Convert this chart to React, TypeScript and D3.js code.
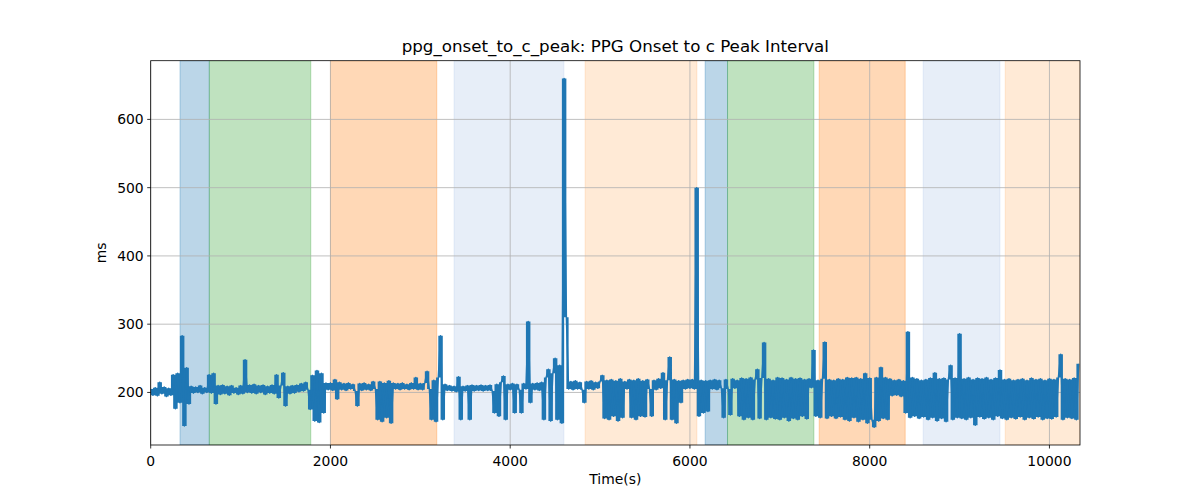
import * as d3 from "d3";

// sample spacing of the recorded signal (s)
const sampleStep = 25;

// ppg_onset_to_c_peak values (ms), one every sampleStep seconds
const onsetToCPeak: number[] = [
  // 0 - 975
  205, 196, 207, 195, 215, 198, 208, 194, 206, 196,
  226, 176, 228, 185, 283, 151, 236, 183, 209, 199,
  208, 200, 210, 198, 207, 200, 226, 199, 228, 183,
  210, 197, 211, 198, 209, 196, 210, 199, 207, 197,
  // 1000 - 1975
  210, 198, 248, 200, 211, 199, 212, 198, 210, 200,
  211, 197, 209, 199, 211, 198, 226, 192, 210, 229,
  180, 209, 198, 210, 199, 211, 201, 213, 202, 215,
  204, 175, 225, 158, 232, 156, 228, 170, 214, 204,
  // 2000 - 2975
  214, 203, 219, 190, 215, 204, 213, 203, 214, 205,
  212, 202, 180, 213, 203, 214, 204, 212, 203, 216,
  205, 160, 216, 157, 214, 163, 217, 155, 214, 205,
  213, 204, 214, 205, 212, 204, 214, 205, 222, 204,
  // 3000 - 3975
  213, 204, 214, 231, 205, 160, 218, 157, 222, 283,
  160, 212, 203, 210, 202, 209, 201, 223, 160, 209,
  202, 210, 160, 211, 202, 210, 203, 211, 202, 210,
  203, 211, 202, 170, 212, 165, 215, 224, 160, 212,
  // 4000 - 4975
  204, 213, 170, 212, 204, 170, 213, 205, 304, 185,
  213, 204, 214, 203, 215, 160, 222, 234, 158, 228,
  250, 160, 240, 155, 660, 310, 205, 216, 204, 217,
  205, 215, 204, 185, 216, 205, 217, 204, 215, 206,
  // 5000 - 5975
  216, 225, 162, 218, 160, 219, 165, 217, 158, 220,
  163, 216, 205, 219, 163, 218, 160, 220, 165, 217,
  164, 219, 205, 165, 218, 204, 220, 206, 229, 160,
  218, 252, 160, 219, 155, 217, 185, 218, 205, 219,
  // 6000 - 6975
  206, 219, 205, 500, 165, 218, 170, 217, 172, 218,
  205, 219, 204, 218, 206, 163, 219, 205, 167, 220,
  206, 218, 165, 221, 160, 220, 163, 222, 160, 219,
  234, 162, 221, 273, 160, 220, 163, 218, 161, 222,
  // 7000 - 7975
  160, 221, 163, 219, 158, 222, 162, 220, 160, 221,
  165, 219, 161, 220, 207, 262, 165, 218, 163, 220,
  274, 162, 219, 165, 218, 162, 220, 164, 219, 160,
  222, 158, 221, 163, 222, 157, 220, 160, 228, 155,
  // 8000 - 8975
  221, 160, 149, 222, 158, 237, 162, 222, 160, 220,
  195, 218, 196, 219, 194, 217, 170, 289, 163, 222,
  165, 220, 162, 218, 164, 219, 160, 221, 163, 229,
  158, 220, 162, 221, 157, 219, 240, 160, 221, 163,
  // 9000 - 9975
  286, 162, 220, 160, 222, 163, 219, 152, 221, 164,
  220, 161, 222, 163, 219, 160, 221, 165, 233, 162,
  219, 160, 220, 163, 218, 161, 219, 164, 220, 160,
  218, 163, 221, 161, 219, 164, 220, 160, 218, 162,
  // 10000 - 10325
  220, 161, 219, 164, 222, 256, 160, 220, 163, 219,
  162, 221, 160, 242,
];

// shaded protocol phases: [start, end] in seconds
const phaseStarts = [326, 652, 2000, 3376, 4834, 6169, 6418, 7438, 8595, 9508];
const phaseEnds = [652, 1781, 3183, 4597, 6077, 6418, 7379, 8395, 9449, 10340];
const phaseColors = [
  "#1f77b4", "#2ca02c", "#ff7f0e", "#aec7e8", "#ffbb78",
  "#1f77b4", "#2ca02c", "#ff7f0e", "#aec7e8", "#ffbb78",
];

const xTicks = [0, 2000, 4000, 6000, 8000, 10000];
const yTicks = [200, 300, 400, 500, 600];

const W = 1200;
const H = 500;
const margin = { top: 60.7, right: 120, bottom: 55, left: 150.7 };
const font = "DejaVu Sans, sans-serif";

export default function App() {
  const innerW = W - margin.left - margin.right;
  const innerH = H - margin.top - margin.bottom;

  const x = d3.scaleLinear().domain([0, 10340]).range([0, innerW]);
  const y = d3.scaleLinear().domain([123, 686]).range([innerH, 0]);

  const vals = onsetToCPeak;
  const next = (i: number) => (i + 1 < vals.length ? vals[i + 1] : vals[i]);

  // the trace is so dense on screen that it reads as a filled band:
  // fill the vertical extent of every segment between two samples
  const band = d3
    .area<number>()
    .curve(d3.curveStepAfter)
    .x((_, i) => x(i * sampleStep))
    .y0((d, i) => y(Math.min(d, next(i))))
    .y1((d, i) => y(Math.max(d, next(i))));

  const line = d3
    .line<number>()
    .x((_, i) => x(i * sampleStep))
    .y((d) => y(d));

  return (
    <svg
      width={W}
      height={H}
      style={{ position: "absolute", left: 0, top: 0, background: "#fff" }}
      fontFamily={font}
    >
      <defs>
        <clipPath id="plotArea">
          <rect x={0} y={0} width={innerW} height={innerH} />
        </clipPath>
      </defs>
      <text
        x={margin.left + innerW / 2}
        y={52}
        textAnchor="middle"
        fontSize={16.7}
        fill="#000"
      >
        ppg_onset_to_c_peak: PPG Onset to c Peak Interval
      </text>
      <g transform={`translate(${margin.left},${margin.top})`}>
        <g clipPath="url(#plotArea)">
          {phaseStarts.map((s, i) => (
            <rect
              key={i}
              x={x(s)}
              y={0}
              width={x(phaseEnds[i]) - x(s)}
              height={innerH}
              fill={phaseColors[i]}
              fillOpacity={0.3}
              stroke={phaseColors[i]}
              strokeOpacity={0.3}
              strokeWidth={1}
            />
          ))}
        </g>
        {/* grid */}
        {xTicks.map((t) => (
          <line
            key={"gx" + t}
            x1={x(t)}
            x2={x(t)}
            y1={0}
            y2={innerH}
            stroke="#b0b0b0"
            strokeWidth={0.8}
          />
        ))}
        {yTicks.map((t) => (
          <line
            key={"gy" + t}
            x1={0}
            x2={innerW}
            y1={y(t)}
            y2={y(t)}
            stroke="#b0b0b0"
            strokeWidth={0.8}
          />
        ))}
        <g clipPath="url(#plotArea)">
          <path d={band(vals) || ""} fill="#1f77b4" />
          <path
            d={line(vals) || ""}
            fill="none"
            stroke="#1f77b4"
            strokeWidth={1.5}
            strokeLinejoin="round"
          />
        </g>
        {/* spines */}
        <rect
          x={0}
          y={0}
          width={innerW}
          height={innerH}
          fill="none"
          stroke="#000"
          strokeWidth={0.8}
        />
        {/* x axis */}
        {xTicks.map((t) => (
          <g key={"tx" + t} transform={`translate(${x(t)},${innerH})`}>
            <line y1={0} y2={3.5} stroke="#000" strokeWidth={0.8} />
            <text y={21} textAnchor="middle" fontSize={13.9} fill="#000">
              {t}
            </text>
          </g>
        ))}
        <text
          x={innerW / 2}
          y={innerH + 39}
          textAnchor="middle"
          fontSize={13.9}
          fill="#000"
        >
          Time(s)
        </text>
        {/* y axis */}
        {yTicks.map((t) => (
          <g key={"ty" + t} transform={`translate(0,${y(t)})`}>
            <line x1={0} x2={-3.5} stroke="#000" strokeWidth={0.8} />
            <text
              x={-7}
              dy="0.35em"
              textAnchor="end"
              fontSize={13.9}
              fill="#000"
            >
              {t}
            </text>
          </g>
        ))}
        <text
          transform={`translate(${-45},${innerH / 2}) rotate(-90)`}
          textAnchor="middle"
          fontSize={13.9}
          fill="#000"
        >
          ms
        </text>
      </g>
    </svg>
  );
}
